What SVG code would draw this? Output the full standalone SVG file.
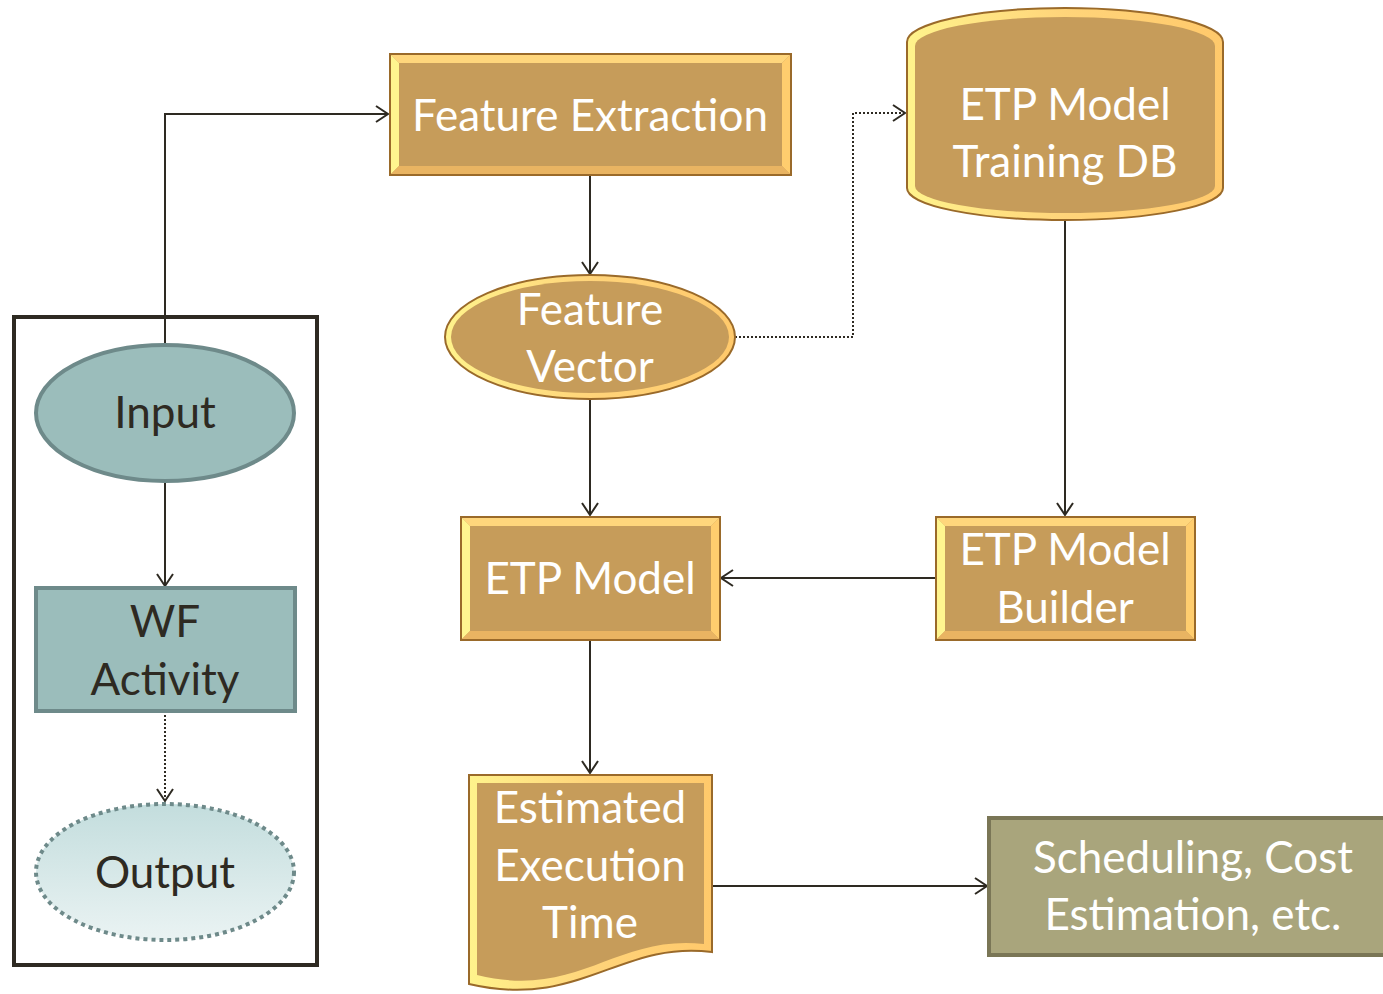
<svg xmlns="http://www.w3.org/2000/svg" width="1383" height="994" viewBox="0 0 1383 994">
<style>
.lbl{font-family:Lato,"Open Sans","Liberation Sans",sans-serif;font-size:44px;text-anchor:middle}
.w{fill:#ffffff}
.d{fill:#2e2a22}
.edge{fill:none;stroke:#2e2a22;stroke-width:2}
.dot{stroke-dasharray:2 2}
.tan{fill:#c69c5a}
.out{stroke:#9a6a2a;stroke-width:2}
.bt{fill:#ffd67c}
.bl{fill:#fff58f}
.br{fill:#ffcd6e}
.bb{fill:#e9b462}
</style>
<defs>
<marker id="arr" markerWidth="16" markerHeight="20" refX="13" refY="9" orient="auto" markerUnits="userSpaceOnUse">
<path d="M1,1 L13,9 L1,17" fill="none" stroke="#2e2a22" stroke-width="2"/>
</marker>
<linearGradient id="bev" x1="0" y1="0" x2="1" y2="0">
<stop offset="0" stop-color="#fff38c"/>
<stop offset="0.5" stop-color="#ffd47a"/>
<stop offset="1" stop-color="#ffc96b"/>
</linearGradient>
<linearGradient id="outg" x1="0" y1="0" x2="0" y2="1">
<stop offset="0" stop-color="#c3dddd"/>
<stop offset="1" stop-color="#eaf3f3"/>
</linearGradient>
</defs>

<g id="container">
<rect x="14" y="317" width="303" height="648" fill="none" stroke="#2e2a22" stroke-width="4"/>
</g>

<g id="connectors">
<path class="edge" d="M165,345 V114 H388" marker-end="url(#arr)"/>
<path class="edge" d="M590,175 V274" marker-end="url(#arr)"/>
<path class="edge dot" d="M735,337 H853 V113 H905" marker-end="url(#arr)"/>
<path class="edge" d="M1065,220 V515" marker-end="url(#arr)"/>
<path class="edge" d="M590,399 V515" marker-end="url(#arr)"/>
<path class="edge" d="M936,578 H721" marker-end="url(#arr)"/>
<path class="edge" d="M590,640 V773" marker-end="url(#arr)"/>
<path class="edge" d="M712,886 H987" marker-end="url(#arr)"/>
<path class="edge" d="M165,481 V586" marker-end="url(#arr)"/>
<path class="edge dot" d="M165,711 V801" marker-end="url(#arr)"/>
</g>

<g id="feature-extraction">
<rect x="390" y="54" width="401" height="121" class="tan out"/>
<polygon class="bt" points="391,55 790,55 782,63 399,63"/>
<polygon class="bl" points="391,55 399,63 399,166 391,174"/>
<polygon class="br" points="790,55 790,174 782,166 782,63"/>
<polygon class="bb" points="391,174 790,174 782,166 399,166"/>
<text class="lbl w" x="590" y="131">Feature Extraction</text>
</g>

<g id="training-db">
<path d="M907,42 A158 34 0 0 1 1223,42 V188 A158 32 0 0 1 907,188 Z" fill="url(#bev)" stroke="#9a6a2a" stroke-width="2"/>
<path d="M915,46 A150 29 0 0 1 1215,46 V186 A150 27 0 0 1 915,186 Z" class="tan"/>
<text class="lbl w" x="1065" y="120">ETP Model</text>
<text class="lbl w" x="1065" y="177">Training DB</text>
</g>

<g id="feature-vector">
<ellipse cx="590" cy="337" rx="145" ry="62" fill="url(#bev)" stroke="#9a6a2a" stroke-width="2"/>
<ellipse cx="590" cy="337" rx="139" ry="56" class="tan"/>
<text class="lbl w" x="590" y="325">Feature</text>
<text class="lbl w" x="590" y="382">Vector</text>
</g>

<g id="etp-model">
<rect x="461" y="517" width="259" height="123" class="tan out"/>
<polygon class="bt" points="462,518 719,518 711,526 470,526"/>
<polygon class="bl" points="462,518 470,526 470,631 462,639"/>
<polygon class="br" points="719,518 719,639 711,631 711,526"/>
<polygon class="bb" points="462,639 719,639 711,631 470,631"/>
<text class="lbl w" x="590" y="594">ETP Model</text>
</g>

<g id="etp-builder">
<rect x="936" y="517" width="259" height="123" class="tan out"/>
<polygon class="bt" points="937,518 1194,518 1186,526 945,526"/>
<polygon class="bl" points="937,518 945,526 945,631 937,639"/>
<polygon class="br" points="1194,518 1194,639 1186,631 1186,526"/>
<polygon class="bb" points="937,639 1194,639 1186,631 945,631"/>
<text class="lbl w" x="1065" y="565">ETP Model</text>
<text class="lbl w" x="1065" y="623">Builder</text>
</g>

<g id="estimated-time">
<path d="M469,775 H712 V952 C620,940 580,1010 469,984 Z" fill="url(#bev)" stroke="#9a6a2a" stroke-width="2"/>
<path d="M477,783 H704 V944 C615,934 578,1000 477,975 Z" class="tan"/>
<text class="lbl w" x="590" y="823">Estimated</text>
<text class="lbl w" x="590" y="881">Execution</text>
<text class="lbl w" x="590" y="938">Time</text>
</g>

<g id="scheduling">
<rect x="989" y="818" width="400" height="137" fill="#a9a57c" stroke="#7a7656" stroke-width="4"/>
<text class="lbl w" x="1193" y="873">Scheduling, Cost</text>
<text class="lbl w" x="1193" y="930">Estimation, etc.</text>
</g>

<g id="input">
<ellipse cx="165" cy="413" rx="129" ry="68" fill="#9bbdbb" stroke="#6e8a8a" stroke-width="4"/>
<text class="lbl d" x="165" y="428">Input</text>
</g>

<g id="wf-activity">
<rect x="36" y="588" width="259" height="123" fill="#9bbdbb" stroke="#6e8a8a" stroke-width="4"/>
<text class="lbl d" x="165" y="637">WF</text>
<text class="lbl d" x="165" y="695">Activity</text>
</g>

<g id="output">
<ellipse cx="165" cy="872" rx="129" ry="68" fill="url(#outg)" stroke="#6e8a8a" stroke-width="4" stroke-dasharray="4 4"/>
<text class="lbl d" x="165" y="888">Output</text>
</g>
</svg>
